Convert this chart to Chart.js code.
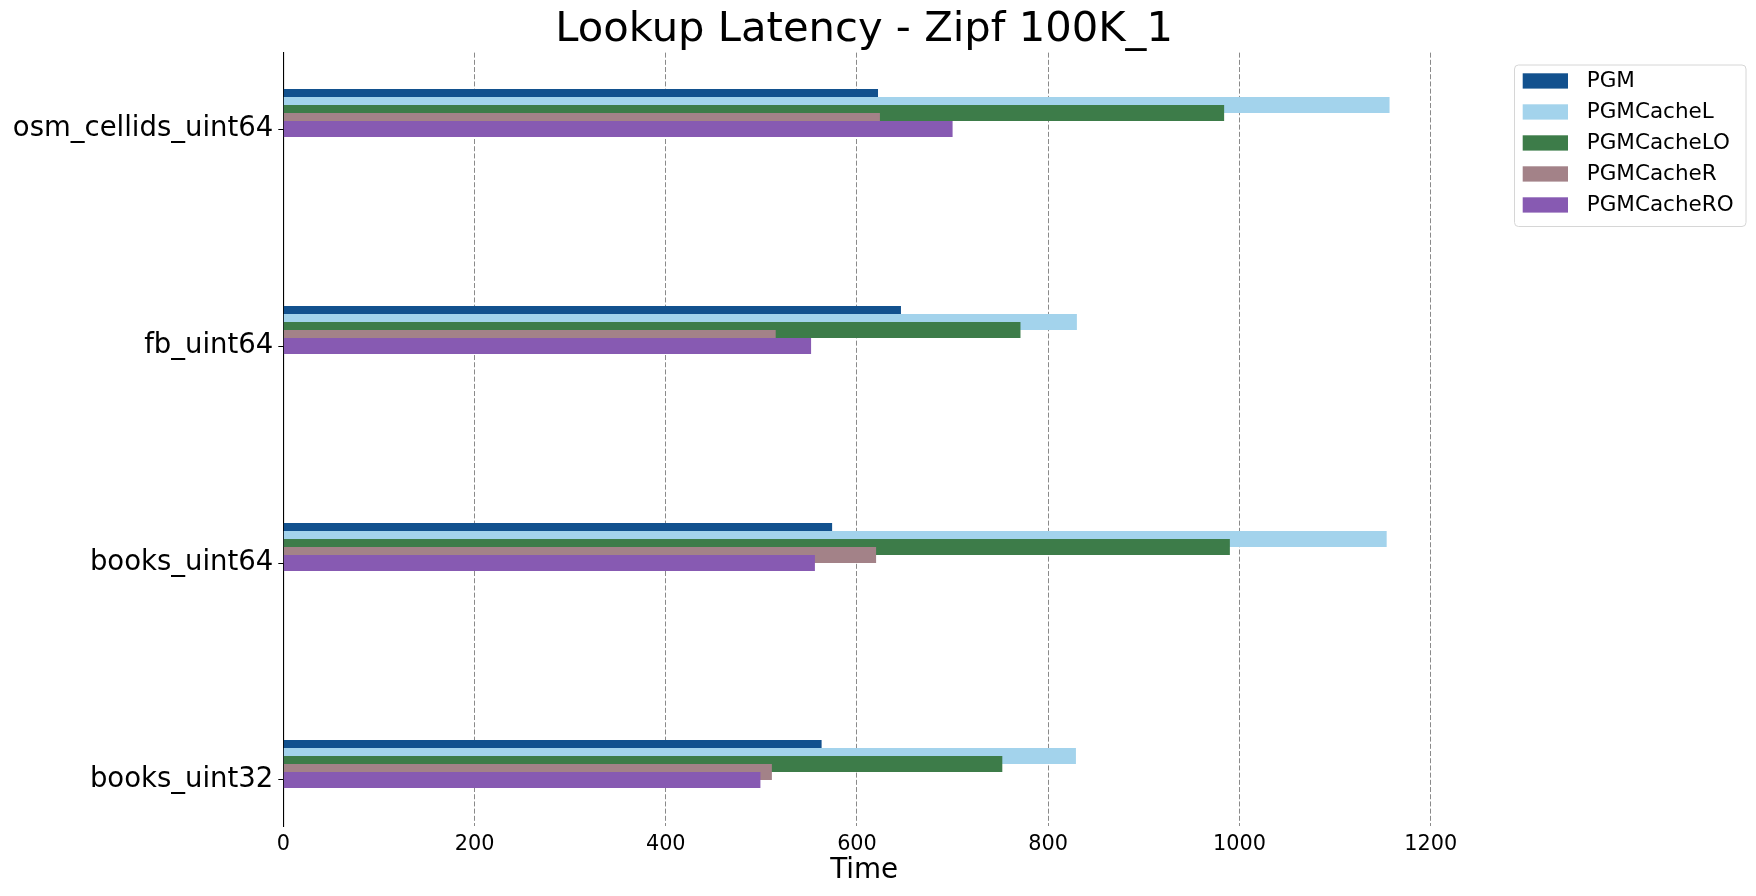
<!DOCTYPE html>
<html>
<head>
<meta charset="utf-8">
<script src="https://cdn.jsdelivr.net/npm/chart.js@4.4.1/dist/chart.umd.min.js"></script>
<style>
  html, body { margin: 0; padding: 0; background: #ffffff; }
  canvas { display: block; }
</style>
</head>
<body>
<canvas id="chart" width="1756" height="896"></canvas>
<script>
// ---- data (bottom to top, as in the picture) ----
const categories = ["books_uint32", "books_uint64", "fb_uint64", "osm_cellids_uint64"];
const seriesNames = ["PGM", "PGMCacheL", "PGMCacheLO", "PGMCacheR", "PGMCacheRO"];
const pgm        = [563, 574, 646, 622];
const pgmCacheL  = [829, 1154, 830, 1157];
const pgmCacheLO = [752, 990, 771, 984];
const pgmCacheR  = [511, 620, 515, 624];
const pgmCacheRO = [499, 556, 552, 700];
const xTickValues = [0, 200, 400, 600, 800, 1000, 1200];
const chartTitle = "Lookup Latency - Zipf 100K_1";
const xAxisTitle = "Time";

const seriesValues = [pgm, pgmCacheL, pgmCacheLO, pgmCacheR, pgmCacheRO];
const seriesColors = ["#12518e", "#a3d3ec", "#3d7c49", "#a38288", "#875ab2"];
const barStep = 0.0369; // vertical offset between series (in category units)

const FONT = "'DejaVu Sans', 'Liberation Sans', sans-serif";

const datasets = seriesNames.map((name, i) => ({
  label: name,
  data: categories.map((c, ci) => ({ x: seriesValues[i][ci], y: ci + (seriesNames.length - 1 - i) * barStep })),
  backgroundColor: seriesColors[i],
  borderWidth: 0,
  barThickness: 16,
  grouped: false,
  order: seriesNames.length - 1 - i,
  inflateAmount: 0
}));

const legendPlugin = {
  id: 'boxLegend',
  afterDraw(chart) {
    const ctx = chart.ctx;
    const x0 = 1514.5, y0 = 65, w = 231.5, h = 161.5, r = 4;
    ctx.save();
    ctx.fillStyle = 'rgba(255,255,255,0.8)';
    ctx.strokeStyle = '#d6d6d6';
    ctx.lineWidth = 1;
    ctx.beginPath();
    ctx.moveTo(x0 + r, y0);
    ctx.lineTo(x0 + w - r, y0);
    ctx.quadraticCurveTo(x0 + w, y0, x0 + w, y0 + r);
    ctx.lineTo(x0 + w, y0 + h - r);
    ctx.quadraticCurveTo(x0 + w, y0 + h, x0 + w - r, y0 + h);
    ctx.lineTo(x0 + r, y0 + h);
    ctx.quadraticCurveTo(x0, y0 + h, x0, y0 + h - r);
    ctx.lineTo(x0, y0 + r);
    ctx.quadraticCurveTo(x0, y0, x0 + r, y0);
    ctx.closePath();
    ctx.fill();
    ctx.stroke();
    ctx.font = "21.5px " + FONT;
    ctx.textBaseline = 'middle';
    ctx.textAlign = 'left';
    chart.data.datasets.forEach((ds, i) => {
      const top = 73.3 + i * 31;
      ctx.fillStyle = ds.backgroundColor;
      ctx.fillRect(1522.7, top, 45.3, 15.3);
      ctx.fillStyle = '#000000';
      ctx.fillText(ds.label, 1586.7, top + 8);
    });
    ctx.restore();
  }
};

new Chart(document.getElementById('chart'), {
  type: 'bar',
  data: { datasets },
  options: {
    indexAxis: 'y',
    responsive: false,
    devicePixelRatio: 1,
    animation: false,
    layout: { padding: { left: 0, right: 311, top: 0, bottom: 0 } },
    plugins: {
      legend: { display: false },
      tooltip: { enabled: false },
      title: {
        display: true,
        text: chartTitle,
        fullSize: false,
        color: '#000000',
        font: { family: FONT, size: 41.7, weight: 'normal', lineHeight: 1.2 },
        padding: { top: 5, bottom: -2.4 }
      }
    },
    scales: {
      x: {
        type: 'linear',
        position: 'bottom',
        min: 0,
        max: 1215,
        offset: false,
        afterBuildTicks: (scale) => { scale.ticks = xTickValues.map(v => ({ value: v })); },
        afterFit: (scale) => { scale.height = 70; },
        grid: {
          display: true,
          offset: false,
          drawOnChartArea: true,
          drawTicks: false,
          color: (c) => (c.tick && c.tick.value === 0) ? 'rgba(0,0,0,0)' : '#8a8a8a',
          lineWidth: 1
        },
        border: { display: false, dash: [5, 2.2] },
        ticks: {
          color: '#000000',
          font: { family: FONT, size: 20.8 },
          padding: 6,
          maxRotation: 0,
          callback: (v) => String(v)
        },
        title: {
          display: true,
          text: xAxisTitle,
          color: '#000000',
          font: { family: FONT, size: 27.8 },
          padding: { top: 0, bottom: 9 }
        }
      },
      y: {
        type: 'linear',
        position: 'left',
        min: -0.212,
        max: 3.352,
        offset: false,
        afterBuildTicks: (scale) => { scale.ticks = categories.map((c, i) => ({ value: i })); },
        afterFit: (scale) => { scale.width = 283.3; },
        grid: {
          display: true,
          offset: false,
          drawOnChartArea: false,
          drawTicks: true,
          tickLength: 5,
          color: '#000000',
          lineWidth: 1
        },
        border: { display: true, color: '#000000', width: 1.1 },
        ticks: {
          color: '#000000',
          font: { family: FONT, size: 27.5 },
          padding: 5,
          callback: (v) => categories[Math.round(v)] ?? ''
        }
      }
    }
  },
  plugins: [legendPlugin]
});
</script>
</body>
</html>
